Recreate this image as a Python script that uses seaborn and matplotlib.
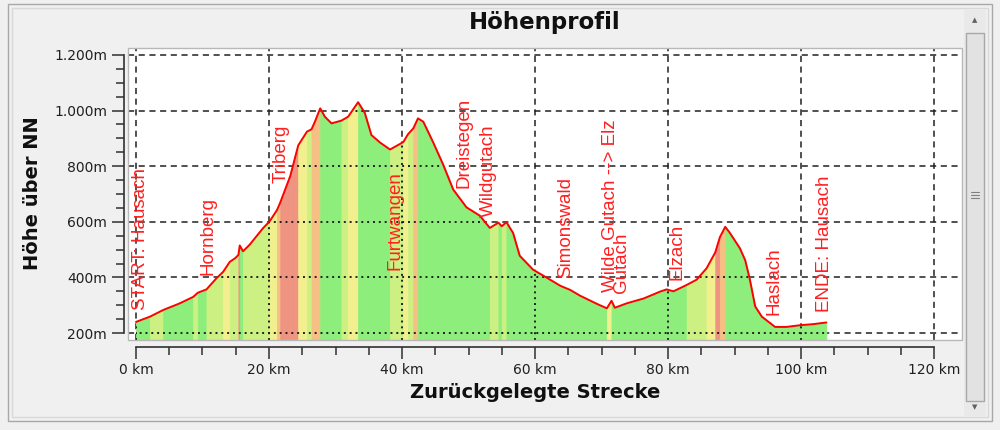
import matplotlib
matplotlib.use('Agg')
import matplotlib.pyplot as plt
import seaborn as sns
import numpy as np
from matplotlib.patches import Rectangle, Polygon
from matplotlib.ticker import MultipleLocator, FuncFormatter

# Hoehenprofil: Strecke in km, Hoehe in m
km = [0.0, 2.1, 4.1, 6.5, 8.6, 9.3, 10.6, 12.1, 13.1, 14.1, 14.9, 15.4, 15.6, 16.1,
      17.1, 19.1, 20.1, 21.2, 21.7, 23.2, 24.4, 25.7, 26.4, 26.9, 27.7, 28.4, 29.4,
      30.9, 31.9, 33.4, 34.4, 35.4, 36.7, 38.2, 39.4, 40.2, 40.9, 41.7, 42.4, 43.2,
      44.7, 46.2, 47.7, 49.7, 51.7, 53.2, 54.5, 55.0, 55.7, 56.7, 57.7, 59.7, 61.7,
      63.8, 65.3, 66.8, 69.3, 70.8, 71.5, 72.0, 73.8, 76.3, 78.8, 79.8, 80.8, 82.8,
      84.3, 85.8, 87.1, 87.8, 88.6, 89.3, 90.8, 91.6, 92.3, 93.1, 94.1, 96.1, 97.8,
      99.8, 101.8, 103.8]
hoehe = [240, 259, 283, 306, 330, 345, 357, 397, 420, 456, 469, 481, 515, 494,
         518, 577, 602, 642, 670, 765, 875, 924, 933, 960, 1008, 978, 954,
         964, 978, 1030, 992, 912, 885, 860, 876, 887, 915, 936, 972, 960,
         885, 805, 716, 652, 622, 578, 597, 584, 599, 560, 478, 428, 400,
         370, 355, 334, 305, 289, 316, 291, 307, 324, 349, 357, 350, 373,
         392, 433, 490, 545, 582, 560, 505, 462, 393, 296, 259, 222, 222,
         228, 232, 238]

# Wegpunkte (Beschriftung)
orte = ['START: Hausach', 'Hornberg', 'Triberg', 'Furtwangen', 'Dreistegen',
        'Wildgutach', 'Simonswald', 'Wilde Gutach --> Elz', 'Gutach', 'Elzach',
        'Haslach', 'ENDE: Hausach']
ort_km = [-0.6, 9.6, 20.5, 37.7, 48.0, 51.7, 63.3, 70.1, 71.7, 80.0, 94.6, 102.3]
ort_hoehe = [283, 409, 740, 427, 722, 617, 398, 347, 344, 391, 265, 276]

# Steigungsklassen in %
stufen = [1.2, 3.2, 4.5, 6.0]
farben = ['#8eee7c', '#cdf082', '#f2f08e', '#f6bf84', '#f09482']

sns.set_theme(style='white')
plt.rcParams['font.family'] = ['DejaVu Sans']

W, H = 1000, 430
def px(x, y):
    return x / W, 1 - y / H

fig = plt.figure(figsize=(10, 4.3), dpi=100, facecolor='#f0f0f0')

# Fensterrahmen + Scrollbar
fig.patches.append(Rectangle(px(8, 421), 984 / W, 417 / H, transform=fig.transFigure,
                             fill=False, edgecolor='#a8a8a8', lw=1))
fig.patches.append(Rectangle(px(12, 417), 976 / W, 409 / H, transform=fig.transFigure,
                             fill=False, edgecolor='#d8d8d8', lw=1))
fig.patches.append(Rectangle(px(964, 416), 22 / W, 407 / H, transform=fig.transFigure,
                             facecolor='#e9e9e9', edgecolor='none'))
fig.patches.append(Rectangle(px(966, 401), 18 / W, 368 / H, transform=fig.transFigure,
                             facecolor='#e2e2e2', edgecolor='#a8a8a8', lw=1))
for gy in [192, 195, 198]:
    fig.lines.append(plt.Line2D([971 / W, 979 / W], [1 - gy / H] * 2,
                                transform=fig.transFigure, color='#808080', lw=0.8))
fig.text(*px(975, 20), '▲', fontsize=5, color='#606060', ha='center', va='center')
fig.text(*px(975, 407), '▼', fontsize=5, color='#606060', ha='center', va='center')

ax = fig.add_axes([0.128, 1 - 340 / H, 0.834, 292 / H])
ax.set_facecolor('white')
ax.set_xlim(-1.2, 124.2)
ax.set_ylim(175, 1225)
unten = 175

# Flaeche nach Steigung einfaerben
for i in range(len(km) - 1):
    steigung = (hoehe[i + 1] - hoehe[i]) / ((km[i + 1] - km[i]) * 1000) * 100
    farbe = farben[int(np.digitize(steigung, stufen))]
    ax.fill_between([km[i], km[i + 1]], [hoehe[i], hoehe[i + 1]], unten,
                    facecolor=farbe, edgecolor=farbe, lw=0.6, zorder=1)

sns.lineplot(x=km, y=hoehe, estimator=None, sort=False, color='#ff0000',
             linewidth=1.4, ax=ax, zorder=4)

# Gitter: gestrichelt ueber Weiss, gepunktet ueber der Flaeche
clip = Polygon([(km[0], unten)] + list(zip(km, hoehe)) + [(km[-1], unten)],
               closed=True, transform=ax.transData)
for gx in range(0, 121, 20):
    ax.axvline(gx, color='#202020', ls=(0, (4, 3)), lw=1.1, zorder=0.8)
    ln = ax.axvline(gx, color='#202020', ls=(0, (1, 2)), lw=1.4, zorder=2)
    ln.set_clip_path(clip)
for gy in range(200, 1201, 200):
    ax.axhline(gy, color='#202020', ls=(0, (4, 3)), lw=1.1, zorder=0.8)
    ln = ax.axhline(gy, color='#202020', ls=(0, (1, 2)), lw=1.4, zorder=2)
    ln.set_clip_path(clip)

for name, x, y in zip(orte, ort_km, ort_hoehe):
    ax.text(x, y, name, rotation=90, ha='left', va='bottom', color='#ff2020',
            fontsize=13.5, family=['Liberation Sans', 'DejaVu Sans'], zorder=5)

# Achsen
for s in ['top', 'right']:
    ax.spines[s].set_visible(False)
ax.spines['left'].set_position(('outward', 3))
ax.spines['left'].set_bounds(200, 1200)
ax.spines['bottom'].set_position(('outward', 5))
ax.spines['bottom'].set_bounds(0, 120)
for s in ['left', 'bottom']:
    ax.spines[s].set_color('#303030')
    ax.spines[s].set_linewidth(1.2)
ax.add_patch(Rectangle((0, 0), 1, 1, transform=ax.transAxes, fill=False,
                       edgecolor='#b8b8b8', lw=1, zorder=6, clip_on=False))

ax.xaxis.set_major_locator(MultipleLocator(20))
ax.xaxis.set_minor_locator(MultipleLocator(5))
ax.yaxis.set_major_locator(MultipleLocator(200))
ax.yaxis.set_minor_locator(MultipleLocator(50))
ax.xaxis.set_major_formatter(FuncFormatter(lambda v, p: f'{v:.0f} km'))
ax.yaxis.set_major_formatter(FuncFormatter(lambda v, p: f'{int(v):,}m'.replace(',', '.')))
ax.tick_params(axis='both', which='both', direction='out', colors='#303030',
               labelcolor='#202020', labelsize=10, width=1.1,
               bottom=True, left=True, top=False, right=False)
ax.tick_params(axis='both', which='major', length=8.5)
ax.tick_params(axis='both', which='minor', length=5.5)
ax.tick_params(axis='y', which='major', pad=3.5)
ax.tick_params(axis='x', which='major', pad=3)

fig.text(*px(545, 23), 'Höhenprofil', ha='center', va='center', fontsize=16.5,
         fontweight='bold', color='#101010')
fig.text(*px(535, 393), 'Zurückgelegte Strecke', ha='center', va='center',
         fontsize=14, fontweight='bold', color='#101010')
fig.text(*px(33, 193), 'Höhe über NN', ha='center', va='center', rotation=90,
         fontsize=14, fontweight='bold', color='#101010')

fig.savefig('out.png', dpi=100, facecolor=fig.get_facecolor())
